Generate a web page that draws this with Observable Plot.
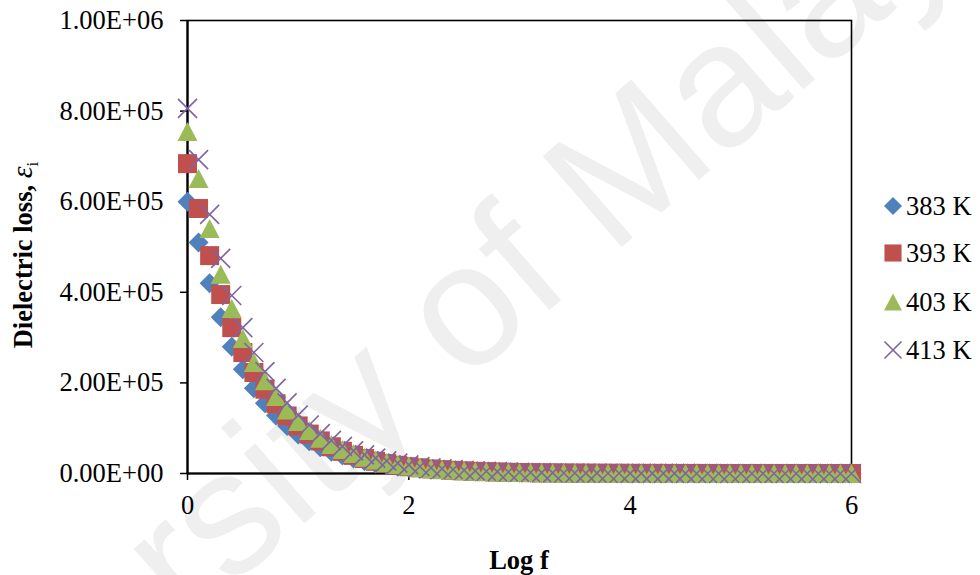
<!DOCTYPE html>
<html>
<head>
<meta charset="utf-8">
<script src="https://cdn.jsdelivr.net/npm/d3@7"></script>
<script src="https://cdn.jsdelivr.net/npm/@observablehq/plot@0.6"></script>
<style>
  html, body { margin: 0; padding: 0; background: #fff; }
  #chart { position: relative; width: 980px; height: 575px; overflow: hidden; }
  #chart svg { position: absolute; left: 0; top: 0; overflow: visible; }
</style>
</head>
<body>
<div id="chart"></div>
<script>
// ---- data (Dielectric loss, values in units of 1e5) ----
const logF = [0.0,0.1,0.2,0.3,0.4,0.5,0.6,0.7,0.8,0.9,
              1.0,1.1,1.2,1.3,1.4,1.5,1.6,1.7,1.8,1.9,
              2.0,2.1,2.2,2.3,2.4,2.5,2.6,2.7,2.8,2.9,
              3.0,3.1,3.2,3.3,3.4,3.5,3.6,3.7,3.8,3.9,
              4.0,4.1,4.2,4.3,4.4,4.5,4.6,4.7,4.8,4.9,
              5.0,5.1,5.2,5.3,5.4,5.5,5.6,5.7,5.8,5.9,6.0];
const unit = 1e5;
const loss383 = [6.00,5.10,4.20,3.45,2.80,2.30,1.88,1.55,1.28,1.05,
                 0.86,0.71,0.58,0.48,0.40,0.33,0.27,0.22,0.18,0.15,
                 0.125,0.10,0.085,0.07,0.058,0.048,0.04,0.033,0.027,0.022,
                 0.018,0.015,0.012,0.010,0.0085,0.007,0.0058,0.0048,0.004,0.0033,
                 0.0027,0.0022,0.0018,0.0015,0.0012,0.001,0.0008,0.0007,0.0006,0.0005,
                 0.0004,0.0004,0.0003,0.0003,0.0002,0.0002,0.0002,0.0001,0.0001,0.0001,0.0001];
const loss393 = [6.84,5.85,4.81,3.95,3.22,2.67,2.23,1.86,1.54,1.27,
                 1.05,0.87,0.72,0.59,0.49,0.40,0.33,0.27,0.22,0.18,
                 0.15,0.125,0.10,0.085,0.07,0.058,0.048,0.04,0.033,0.027,
                 0.022,0.018,0.015,0.012,0.010,0.0085,0.007,0.0058,0.0048,0.004,
                 0.0033,0.0027,0.0022,0.0018,0.0015,0.0012,0.001,0.0008,0.0007,0.0006,
                 0.0005,0.0004,0.0003,0.0003,0.0002,0.0002,0.0002,0.0001,0.0001,0.0001,0.0001];
const loss403 = [7.55,6.51,5.41,4.40,3.64,2.98,2.45,2.05,1.70,1.40,
                 1.15,0.95,0.78,0.64,0.53,0.44,0.36,0.30,0.245,0.20,
                 0.165,0.135,0.11,0.09,0.075,0.062,0.051,0.042,0.035,0.029,
                 0.024,0.02,0.016,0.013,0.011,0.009,0.0075,0.0062,0.005,0.0042,
                 0.0035,0.0029,0.0024,0.002,0.0016,0.0013,0.0011,0.0009,0.0008,0.0006,
                 0.0005,0.0004,0.0004,0.0003,0.0003,0.0002,0.0002,0.0002,0.0001,0.0001,0.0001];
const loss413 = [8.06,6.93,5.72,4.75,3.93,3.22,2.67,2.25,1.88,1.56,
                 1.29,1.07,0.88,0.73,0.60,0.50,0.41,0.34,0.28,0.23,
                 0.19,0.155,0.128,0.105,0.087,0.072,0.059,0.049,0.04,0.033,
                 0.027,0.022,0.018,0.015,0.012,0.01,0.0085,0.007,0.0058,0.0048,
                 0.004,0.0033,0.0027,0.0022,0.0018,0.0015,0.0012,0.001,0.0008,0.0007,
                 0.0006,0.0005,0.0004,0.0004,0.0003,0.0003,0.0002,0.0002,0.0002,0.0001,0.0001];
const seriesNames = ["383 K","393 K","403 K","413 K"];
const seriesValues = [loss383, loss393, loss403, loss413];
const seriesColors = ["#4F81BD","#C0504D","#9BBB59","#8064A2"];
const xTicks = [0,2,4,6];
const yTicks = [0,200000,400000,600000,800000,1000000];

// ---- marker shapes (Excel-like), sized from Plot's r ----
const rad = (size) => Math.sqrt(size / Math.PI);
const diamond = {draw(c, s){ const r = rad(s); c.moveTo(0,-r); c.lineTo(r,0); c.lineTo(0,r); c.lineTo(-r,0); c.closePath(); }};
const square  = {draw(c, s){ const r = rad(s)*0.95; c.moveTo(-r,-r); c.lineTo(r,-r); c.lineTo(r,r); c.lineTo(-r,r); c.closePath(); }};
const triangle= {draw(c, s){ const r = rad(s); c.moveTo(0,-r*0.95); c.lineTo(r,r*0.95); c.lineTo(-r,r*0.95); c.closePath(); }};
const cross   = {draw(c, s){ const r = rad(s)*0.95; c.moveTo(-r,-r); c.lineTo(r,r); c.moveTo(r,-r); c.lineTo(-r,r); }};
const shapes = [diamond, square, triangle, cross];

const fmtE = d => { const [m, e] = d.toExponential(2).split("e"); return m + "E" + e[0] + e.slice(1).padStart(2, "0"); };
const serif = "'Liberation Serif','Times New Roman',serif";

const dotMarks = seriesValues.map((vals, k) => {
  const data = logF.map((x, i) => ({x, y: vals[i] * unit}));
  return k === 3
    ? Plot.dot(data, {x: "x", y: "y", r: 10, symbol: shapes[k], fill: "none", stroke: seriesColors[k], strokeWidth: 1.6})
    : Plot.dot(data, {x: "x", y: "y", r: 10, symbol: shapes[k], fill: seriesColors[k], stroke: "none"});
});

const svg = Plot.plot({
  width: 980, height: 575,
  marginLeft: 187, marginRight: 129, marginTop: 20, marginBottom: 102,
  style: {background: "transparent", fontFamily: serif, color: "#000", overflow: "visible"},
  x: {domain: [0, 6]},
  y: {domain: [0, 1e6]},
  marks: [
    Plot.frame({stroke: "#000", strokeWidth: 1.6}),
    Plot.axisX({ticks: xTicks, tickSize: 7, tickPadding: 15, fontSize: 26.5, label: null, tickFormat: d => String(d), strokeWidth: 1.5}),
    Plot.axisY({ticks: yTicks, tickSize: 7, tickPadding: 17, fontSize: 26.5, label: null, tickFormat: fmtE, strokeWidth: 1.5}),
    Plot.ruleX([0], {stroke: "#000", strokeWidth: 2.2}),
    Plot.ruleY([0], {stroke: "#000", strokeWidth: 2.2}),
    ...dotMarks
  ]
});
const S = d3.select(svg);

// watermark behind everything
const wmSize = 175;
S.insert("text", ":first-child")
  .attr("transform", "translate(471,318) rotate(-41)")
  .attr("text-anchor", "start")
  .attr("x", -4.945 * wmSize).attr("y", 0.26 * wmSize)
  .attr("font-family", "'Liberation Sans',Arial,sans-serif")
  .attr("font-size", wmSize)
  .attr("fill", "#efefef")
  .text("University of Malaya");

// axis titles
S.append("text")
  .attr("x", 519).attr("y", 569)
  .attr("text-anchor", "middle")
  .attr("font-family", serif).attr("font-weight", "bold").attr("font-size", 26.5)
  .text("Log f");
const yt = S.append("text")
  .attr("transform", "translate(32,255) rotate(-90)")
  .attr("text-anchor", "middle")
  .attr("font-family", serif).attr("font-size", 26.5);
yt.append("tspan").attr("font-weight", "bold").text("Dielectric loss, ");
yt.append("tspan").attr("font-style", "italic").attr("font-size", 30).text("ε");
yt.append("tspan").attr("font-size", 17).attr("dy", 6).text("i");

// legend
const legendY = [206, 253, 302, 350];
seriesNames.forEach((name, k) => {
  const g = S.append("g").attr("transform", `translate(893,${legendY[k]})`);
  const p = d3.path(); shapes[k].draw(p, Math.PI * 9 * 9);
  g.append("path").attr("d", p.toString())
    .attr("fill", k === 3 ? "none" : seriesColors[k])
    .attr("stroke", k === 3 ? seriesColors[k] : "none")
    .attr("stroke-width", 1.6);
  g.append("text").attr("x", 13).attr("dy", "0.34em")
    .attr("text-anchor", "start")
    .attr("font-family", serif).attr("font-size", 26.5).text(name);
});

document.getElementById("chart").appendChild(svg);
</script>
</body>
</html>
